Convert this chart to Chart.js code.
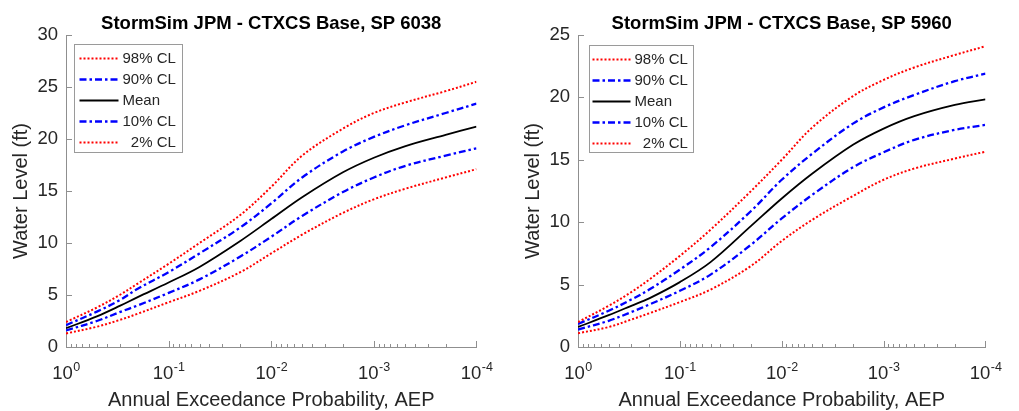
<!DOCTYPE html>
<html>
<head>
<meta charset="utf-8">
<script src="https://cdn.jsdelivr.net/npm/chart.js@4.4.0/dist/chart.umd.min.js"></script>
<style>
html,body{margin:0;padding:0;background:#fff;}
#wrap{position:relative;width:1019px;height:411px;overflow:hidden;}
canvas{position:absolute;top:0;}
#c1{left:0;}
#c2{left:510px;}
</style>
</head>
<body>
<div id="wrap">
<canvas id="c1" width="510" height="411"></canvas>
<canvas id="c2" width="509" height="411"></canvas>
</div>
<script>
// ---------------- DATA ----------------
const aep = [1, 0.5, 0.3, 0.2, 0.1, 0.05, 0.02, 0.01, 0.005, 0.002, 0.001, 0.0005, 0.0002, 0.0001];
const seriesLabels = ['98% CL', '90% CL', 'Mean', '10% CL', '  2% CL'];

// SP 6038
const sp6038_cl98 = [2.4, 3.8, 5.0, 6.1, 8.0, 10.0, 12.7, 15.4, 18.4, 21.0, 22.5, 23.5, 24.6, 25.5];
const sp6038_cl90 = [2.1, 3.4, 4.5, 5.6, 7.2, 9.0, 11.5, 13.8, 16.3, 18.8, 20.2, 21.3, 22.5, 23.4];
const sp6038_mean = [1.8, 2.95, 3.95, 4.8, 6.2, 7.7, 10.2, 12.3, 14.4, 16.8, 18.2, 19.3, 20.4, 21.2];
const sp6038_cl10 = [1.6, 2.5, 3.35, 4.0, 5.2, 6.5, 8.7, 10.6, 12.6, 14.9, 16.3, 17.4, 18.4, 19.1];
const sp6038_cl02 = [1.3, 1.95, 2.6, 3.2, 4.3, 5.4, 7.2, 9.0, 10.8, 12.9, 14.2, 15.2, 16.3, 17.1];

// SP 5960
const sp5960_cl98 = [2.0, 3.3, 4.4, 5.4, 7.3, 9.4, 12.5, 15.0, 17.6, 20.1, 21.4, 22.4, 23.4, 24.1];
const sp5960_cl90 = [1.85, 2.9, 3.8, 4.6, 6.2, 8.0, 10.9, 13.4, 15.5, 17.9, 19.2, 20.2, 21.3, 21.9];
const sp5960_mean = [1.6, 2.55, 3.3, 3.9, 5.2, 6.8, 9.7, 11.9, 13.9, 16.2, 17.5, 18.5, 19.4, 19.85];
const sp5960_cl10 = [1.4, 2.1, 2.8, 3.4, 4.5, 5.8, 8.2, 10.3, 12.2, 14.4, 15.6, 16.6, 17.4, 17.8];
const sp5960_cl02 = [1.1, 1.6, 2.2, 2.7, 3.6, 4.6, 6.5, 8.5, 10.2, 12.1, 13.4, 14.3, 15.1, 15.65];

const xTickValues = [1, 0.1, 0.01, 0.001, 0.0001];
const xTickBase = '10';
const xTickExponents = ['0', '-1', '-2', '-3', '-4'];
const yTicks6038 = [0, 5, 10, 15, 20, 25, 30];
const yTicks5960 = [0, 5, 10, 15, 20, 25];

// ---------------- STYLE ----------------
const FONT = '"Liberation Sans", Arial, Helvetica, sans-serif';
const TEXT = '#262626';
const AXIS = '#8f8f8f';
const lineStyles = [
  {color: '#ff0000', dash: [2, 2], width: 2},
  {color: '#0000ff', dash: [7, 3, 2.5, 3], width: 2.3},
  {color: '#000000', dash: [], width: 1.8},
  {color: '#0000ff', dash: [7, 3, 2.5, 3], width: 2.3},
  {color: '#ff0000', dash: [2, 2], width: 2}
];

const inTicks = {
  id: 'inTicks',
  afterDraw(chart) {
    const {ctx, chartArea: a, scales: {x, y}} = chart;
    ctx.save();
    ctx.strokeStyle = AXIS;
    ctx.lineWidth = 1;
    ctx.beginPath();
    for (let e = 0; e >= -4; e--) {
      for (let m = 1; m <= 9; m++) {
        const v = m * Math.pow(10, e);
        if (v > 1.0000001 || v < 0.0000999) continue;
        const px = Math.round(x.getPixelForValue(v)) + 0.5;
        const len = m === 1 ? 6 : 3;
        ctx.moveTo(px, a.bottom);
        ctx.lineTo(px, a.bottom - len);
      }
    }
    y.ticks.forEach(t => {
      const py = Math.round(y.getPixelForValue(t.value)) + 0.5;
      ctx.moveTo(a.left, py);
      ctx.lineTo(a.left + 6, py);
    });
    ctx.stroke();
    // power-of-ten tick labels with raised exponents
    ctx.fillStyle = TEXT;
    ctx.textBaseline = 'alphabetic';
    ctx.textAlign = 'left';
    x.ticks.forEach((t, i) => {
      const px = x.getPixelForValue(t.value);
      ctx.font = '18.5px ' + FONT;
      const wb = ctx.measureText(xTickBase).width;
      ctx.font = '12.5px ' + FONT;
      const we = ctx.measureText(xTickExponents[i]).width;
      const x0 = px - (wb + we) / 2;
      const base = a.bottom + 32;
      ctx.font = '18.5px ' + FONT;
      ctx.fillText(xTickBase, x0, base);
      ctx.font = '12.5px ' + FONT;
      ctx.fillText(xTickExponents[i], x0 + wb + 0.5, base - 8.5);
    });
    ctx.restore();
  }
};

const boxLegend = {
  id: 'boxLegend',
  afterDraw(chart, args, o) {
    const {ctx, chartArea: a} = chart;
    const bx = Math.round(a.left + o.dx) + 0.5, by = Math.round(a.top + o.dy) + 0.5;
    ctx.save();
    ctx.fillStyle = '#fff';
    ctx.fillRect(bx, by, o.w, o.h);
    ctx.strokeStyle = '#9a9a9a';
    ctx.lineWidth = 1;
    ctx.strokeRect(bx, by, o.w, o.h);
    chart.data.datasets.forEach((ds, i) => {
      const yy = by + 14 + 21 * i;
      ctx.strokeStyle = ds.borderColor;
      ctx.lineWidth = ds.borderWidth;
      ctx.setLineDash(ds.borderDash || []);
      ctx.beginPath();
      ctx.moveTo(bx + o.l0, yy);
      ctx.lineTo(bx + o.l1, yy);
      ctx.stroke();
      ctx.setLineDash([]);
      ctx.fillStyle = TEXT;
      ctx.font = '15px ' + FONT;
      ctx.textBaseline = 'middle';
      ctx.textAlign = 'left';
      ctx.fillText(ds.label, bx + o.tx, yy);
    });
    ctx.restore();
  }
};

function makeChart(id, title, series, yTicks, cfg) {
  const datasets = series.map((vals, i) => ({
    label: seriesLabels[i],
    data: aep.map((p, k) => ({x: p, y: vals[k]})),
    borderColor: lineStyles[i].color,
    borderDash: lineStyles[i].dash,
    borderWidth: lineStyles[i].width,
    borderCapStyle: 'butt',
    pointRadius: 0,
    fill: false,
    tension: 0.35
  }));
  return new Chart(document.getElementById(id), {
    type: 'line',
    data: {datasets},
    plugins: [inTicks, boxLegend],
    options: {
      responsive: false,
      animation: false,
      events: [],
      layout: {padding: {left: 0, right: cfg.padRight, top: 0, bottom: 0}},
      plugins: {
        legend: {display: false},
        tooltip: {enabled: false},
        title: {
          display: true, text: title, fullSize: false, color: '#000',
          font: {family: FONT, size: 18.5, weight: 'bold', lineHeight: 1},
          padding: {top: 14.5, bottom: 2}
        },
        boxLegend: cfg.legend
      },
      scales: {
        x: {
          type: 'logarithmic', reverse: true, min: 0.0001, max: 1,
          afterBuildTicks: s => { s.ticks = xTickValues.map(v => ({value: v, major: true})); },
          afterFit: s => { s.height = 64; },
          ticks: {
            autoSkip: false, maxRotation: 0, minRotation: 0, padding: 15.5, color: 'rgba(0,0,0,0)',
            font: {family: FONT, size: 18, lineHeight: 1},
            callback: (v, i) => xTickBase + xTickExponents[i]
          },
          grid: {display: false, drawTicks: false, drawOnChartArea: false},
          border: {display: true, color: AXIS, width: 1},
          title: {
            display: true, text: 'Annual Exceedance Probability, AEP', color: TEXT,
            font: {family: FONT, size: 20, lineHeight: 1}, padding: {top: 0, bottom: 1}
          }
        },
        y: {
          type: 'linear', min: 0, max: yTicks[yTicks.length - 1],
          afterBuildTicks: s => { s.ticks = yTicks.map(v => ({value: v})); },
          afterFit: s => { s.width = cfg.yWidth; },
          ticks: {padding: 8, color: TEXT, font: {family: FONT, size: 18.5, lineHeight: 1}},
          grid: {display: false, drawTicks: false, drawOnChartArea: false},
          border: {display: true, color: AXIS, width: 1},
          title: {
            display: true, text: 'Water Level (ft)', color: TEXT,
            font: {family: FONT, size: 20, lineHeight: 1}, padding: {top: cfg.yTitlePad, bottom: 0}
          }
        }
      }
    }
  });
}

makeChart('c1', 'StormSim JPM - CTXCS Base, SP 6038',
  [sp6038_cl98, sp6038_cl90, sp6038_mean, sp6038_cl10, sp6038_cl02], yTicks6038,
  {padRight: 23, yWidth: 66, yTitlePad: 11.5,
   legend: {dx: 8, dy: 9, w: 108, h: 108, l0: 5, l1: 44, tx: 48}});

makeChart('c2', 'StormSim JPM - CTXCS Base, SP 5960',
  [sp5960_cl98, sp5960_cl90, sp5960_mean, sp5960_cl10, sp5960_cl02], yTicks5960,
  {padRight: 20, yWidth: 68, yTitlePad: 13,
   legend: {dx: 11, dy: 10, w: 104, h: 107, l0: 3, l1: 41, tx: 45}});
</script>
</body>
</html>
